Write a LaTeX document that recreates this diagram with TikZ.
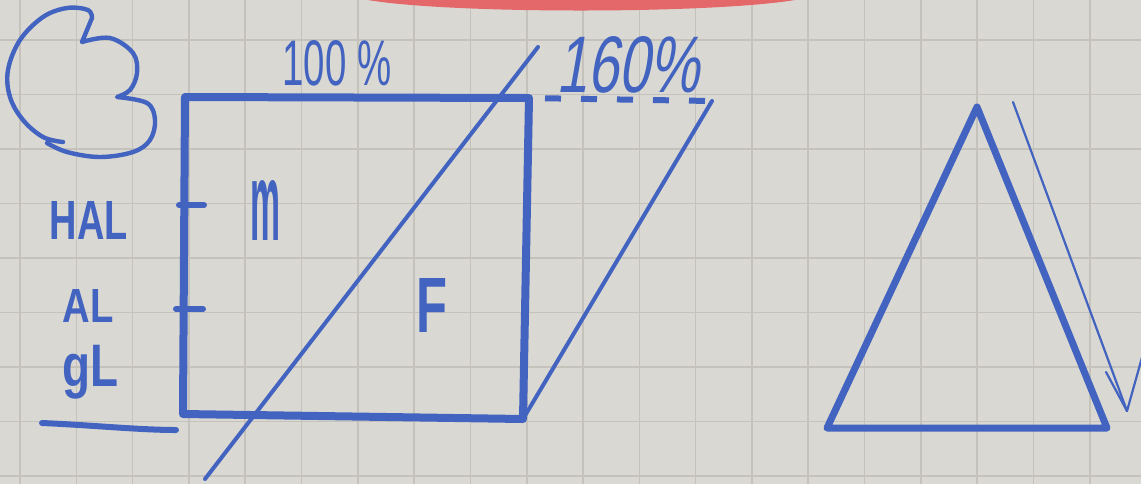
\documentclass[tikz,border=0pt]{standalone}
\usepackage{fontspec}
\setmainfont{Liberation Sans}
\newfontfamily\slantfont[FakeSlant=0.25]{Liberation Sans}
\usetikzlibrary{calc}
\definecolor{paper}{HTML}{DAD8D2}
\definecolor{gridc}{HTML}{C5C2BB}
\definecolor{pen}{HTML}{4263C0}
\definecolor{redmark}{HTML}{E4686A}
\tikzset{
  marker/.style={draw=pen, line width=4pt, line cap=round, line join=round},
  thinpen/.style={draw=pen, line width=2pt, line cap=round, line join=round},
  hair/.style={draw=pen, line width=1.1pt, line cap=round, line join=round},
  handtext/.style={text=pen, inner sep=0pt, anchor=center},
  boldtext/.style={handtext, font=\bfseries},
  gridline/.style={draw=gridc, line width=0.8pt},
}
\begin{document}
\begin{tikzpicture}[x=0.5pt,y=-0.5pt]
\useasboundingbox (0,0) rectangle (1141,484);
\clip (0,0) rectangle (1141,484);
\fill[paper] (0,0) rectangle (1141,484);
\foreach \i in {0,...,20} \draw[gridline] ({20+56.3*\i},0) -- ({20+56.3*\i},484);
\foreach \j in {0,...,8} \draw[gridline] (0,{40+54.5*\j}) -- (1141,{40+54.5*\j});
% red mark at top
\fill[redmark] (368,0) .. controls (450,14) and (710,14) .. (795,0) -- cycle;
% the "3"
\draw[pen, line width=2.2pt, line cap=round, line join=round]
  plot[smooth, tension=0.6] coordinates {(63,142) (43,137) (23,120) (10,97) (8,70) (20,40) (43,17) (67,8) (88,10) (92,18)}
  -- plot[smooth, tension=0.6] coordinates {(82,42) (110,38) (133,53) (137,73) (130,90) (117,97)}
  -- plot[smooth, tension=0.6] coordinates {(117,97) (147,103) (155,120) (150,140) (133,152) (100,157) (67,152) (47,143)};
% square
\coordinate (TL) at (185,97);
\coordinate (TR) at (529,98);
\coordinate (BR) at (523,419);
\coordinate (BL) at (183,414);
\draw[marker] (TL) -- (TR) -- (BR) -- (BL) -- cycle;
% dashed extension and parallelogram side
\coordinate (PR) at (712,101);
\draw[draw=pen, line width=3pt, dash pattern=on 8pt off 10pt, dash phase=10pt] (TR) -- (PR);
\draw[thinpen] (PR) -- (BR);
% long diagonal
\coordinate (D1) at (538,47);
\coordinate (D2) at (205,479);
\draw[thinpen] (D1) -- (D2);
% ticks on left side
\coordinate (T1a) at (179,205);
\coordinate (T1b) at (204,205);
\coordinate (T2a) at (176,309);
\coordinate (T2b) at (203,309);
\draw[marker, line width=3pt] (T1a) -- (T1b);
\draw[marker, line width=3pt] (T2a) -- (T2b);
% underline
\coordinate (U1) at (42,423);
\coordinate (U2) at (176,430);
\draw[marker, line width=3pt] (U1) .. controls (90,425) and (140,430) .. (U2);
% triangle
\coordinate (A) at (977,107);
\coordinate (B) at (827,428);
\coordinate (C) at (1107,428);
\draw[marker, line width=3.5pt] (A) -- (C) -- (B) -- cycle;
% arrow beside triangle
\coordinate (S) at (1013,102);
\coordinate (Tip) at (1127,411);
\coordinate (ArmL) at (1106,372);
\coordinate (ArmR) at (1148,336);
\draw[hair] (S) -- (Tip);
\draw[hair] (ArmL) -- (Tip) -- (ArmR);
% labels
\node[boldtext] (hal) at (89,220) {\resizebox{39pt}{19pt}{HAL}};
\node[boldtext] (al) at (88,306) {\resizebox{25.5pt}{16.5pt}{AL}};
\node[boldtext] (gl) at (90,372) {\resizebox*{28pt}{27pt}{gL}};
\node[boldtext] (m) at (265,210) {\resizebox{15pt}{30pt}{m}};
\node[boldtext] (F) at (432,305) {\resizebox{15.5pt}{27pt}{F}};
\node[handtext] (p100) at (337,63) {\resizebox{54.5pt}{22.5pt}{100 \%}};
\node[handtext] (p160) at (628,65) {\resizebox{71.5pt}{28pt}{\slantfont 160\%}};
\end{tikzpicture}
\end{document}
